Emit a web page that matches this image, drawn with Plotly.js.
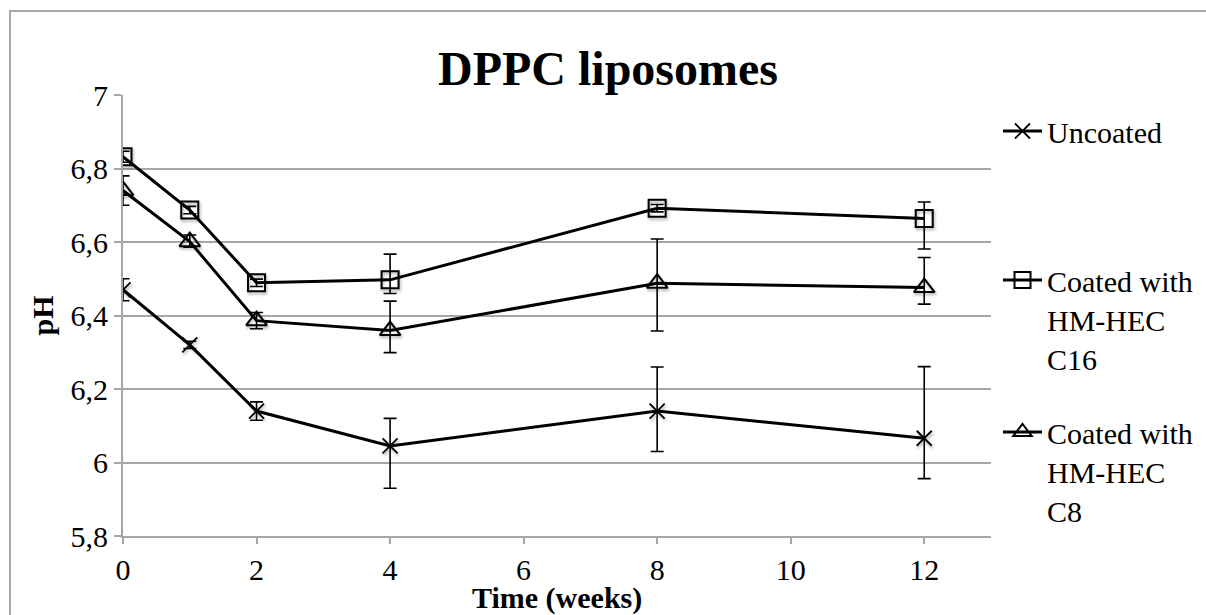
<!DOCTYPE html>
<html>
<head>
<meta charset="utf-8">
<script src="https://cdn.plot.ly/plotly-3.0.1.min.js"></script>
<style>
  html, body { margin: 0; padding: 0; background: #ffffff; overflow: hidden; }
  #wrap { position: relative; width: 1206px; height: 615px; }
  #chart { width: 1206px; height: 615px; }
  #frame {
    position: absolute; left: 9px; top: 10px; width: 1400px; height: 800px;
    border: 2px solid #a9a9a9; pointer-events: none; box-sizing: border-box;
  }
  /* soft drop shadow under the data markers */
  #chart .scatterlayer .points path {
    filter: drop-shadow(1px 2px 1.5px rgba(0,0,0,0.35));
  }
</style>
</head>
<body>
<div id="wrap">
  <div id="chart"></div>
  <div id="frame"></div>
</div>
<script>
// Storage time in weeks
const weeks = [0, 1, 2, 4, 8, 12];

// pH of uncoated DPPC liposomes
const uncoated          = [6.47, 6.32, 6.14, 6.045, 6.14, 6.066];
const uncoatedErrPlus   = [0.03, 0.01, 0.025, 0.075, 0.12, 0.195];
const uncoatedErrMinus  = [0.03, 0.01, 0.025, 0.115, 0.11, 0.11];

// pH of liposomes coated with HM-HEC C16
const coatedC16         = [6.832, 6.687, 6.489, 6.497, 6.692, 6.664];
const coatedC16ErrPlus  = [0.015, 0.01, 0.01, 0.07, 0.01, 0.045];
const coatedC16ErrMinus = [0.015, 0.01, 0.01, 0.037, 0.01, 0.083];

// pH of liposomes coated with HM-HEC C8
const coatedC8          = [6.74, 6.601, 6.386, 6.359, 6.488, 6.476];
const coatedC8ErrPlus   = [0.04, 0.018, 0.022, 0.08, 0.12, 0.082];
const coatedC8ErrMinus  = [0.04, 0.015, 0.022, 0.06, 0.13, 0.045];

// Axis ticks
const yTickVals = [5.8, 6.0, 6.2, 6.4, 6.6, 6.8, 7.0];
const yTickText = ['5,8', '6', '6,2', '6,4', '6,6', '6,8', '7'];
const xTickVals = [0, 2, 4, 6, 8, 10, 12];
const xTickText = ['0', '2', '4', '6', '8', '10', '12'];

const seriesNames = ['Uncoated', 'Coated with<br>HM-HEC<br>C16', 'Coated with<br>HM-HEC<br>C8'];
const xTitle = 'Time (weeks)';
const yTitle = 'pH';

const serif = "'Liberation Serif', 'Times New Roman', serif";
const gridGrey = '#a6a6a6';

function errBars(plus, minus) {
  return {
    type: 'data', symmetric: false, array: plus, arrayminus: minus,
    color: '#000000', thickness: 1.6, width: 6.5
  };
}

const traces = [
  {
    x: weeks, y: uncoated, name: seriesNames[0], legend: 'legend',
    mode: 'lines+markers', type: 'scatter',
    line: { color: '#000000', width: 3 },
    marker: { symbol: 'x-thin-open', size: 15, color: '#000000', line: { color: '#000000', width: 1.8 } },
    error_y: errBars(uncoatedErrPlus, uncoatedErrMinus)
  },
  {
    x: weeks, y: coatedC16, name: seriesNames[1], legend: 'legend2',
    mode: 'lines+markers', type: 'scatter',
    line: { color: '#000000', width: 3 },
    marker: { symbol: 'square-open', size: 17, color: '#000000', line: { color: '#000000', width: 2 } },
    error_y: errBars(coatedC16ErrPlus, coatedC16ErrMinus)
  },
  {
    x: weeks, y: coatedC8, name: seriesNames[2], legend: 'legend3',
    mode: 'lines+markers', type: 'scatter',
    line: { color: '#000000', width: 3 },
    marker: { symbol: 'triangle-up-open', size: 18, color: '#000000', line: { color: '#000000', width: 2 } },
    error_y: errBars(coatedC8ErrPlus, coatedC8ErrMinus)
  }
];

function legendAt(topPx) {
  return {
    xref: 'container', yref: 'container',
    x: 998 / 1206, xanchor: 'left',
    y: 1 - topPx / 615, yanchor: 'top',
    valign: 'top',
    bgcolor: 'rgba(0,0,0,0)', borderwidth: 0,
    font: { family: serif, size: 30, color: '#000000' },
    itemwidth: 39
  };
}

const layout = {
  width: 1206, height: 615,
  margin: { l: 123, r: 215, t: 95, b: 79 },
  paper_bgcolor: '#ffffff', plot_bgcolor: '#ffffff',
  font: { family: serif, color: '#000000' },
  title: {
    text: 'DPPC liposomes',
    font: { family: serif, size: 48, weight: 'bold', color: '#000000' },
    xref: 'container', x: 608 / 1206, xanchor: 'center',
    yref: 'container', y: 1 - 68 / 615, yanchor: 'middle'
  },
  xaxis: {
    range: [0, 13], tickvals: xTickVals, ticktext: xTickText,
    showgrid: false, zeroline: false,
    showline: true, linecolor: gridGrey, linewidth: 2,
    ticks: 'outside', ticklen: 6, tickwidth: 2, tickcolor: gridGrey,
    tickfont: { family: serif, size: 30, color: '#000000' },
    automargin: false, fixedrange: true
  },
  yaxis: {
    range: [5.8, 7.0], tickvals: yTickVals, ticktext: yTickText,
    ticksuffix: '\u00a0',
    showgrid: true, gridcolor: gridGrey, gridwidth: 2, zeroline: false,
    showline: true, linecolor: gridGrey, linewidth: 2,
    ticks: 'outside', ticklen: 7, tickwidth: 2, tickcolor: gridGrey,
    tickfont: { family: serif, size: 30, color: '#000000' },
    automargin: false, fixedrange: true
  },
  annotations: [
    {
      text: '<b>' + xTitle + '</b>', showarrow: false, borderpad: 0,
      xref: 'paper', x: 0.5, xanchor: 'center',
      yref: 'paper', y: -(598 - 536) / 441, yanchor: 'middle',
      font: { family: serif, size: 30, color: '#000000' }
    },
    {
      text: '<b>' + yTitle + '</b>', showarrow: false, textangle: -90, borderpad: 0,
      xref: 'paper', x: -(123 - 42) / 868, xanchor: 'center',
      yref: 'paper', y: 0.5, yanchor: 'middle',
      font: { family: serif, size: 30, color: '#000000' }
    }
  ],
  showlegend: true,
  legend: legendAt(105),
  legend2: legendAt(254),
  legend3: legendAt(406)
};

Plotly.newPlot('chart', traces, layout, { staticPlot: true, displayModeBar: false });
</script>
</body>
</html>
